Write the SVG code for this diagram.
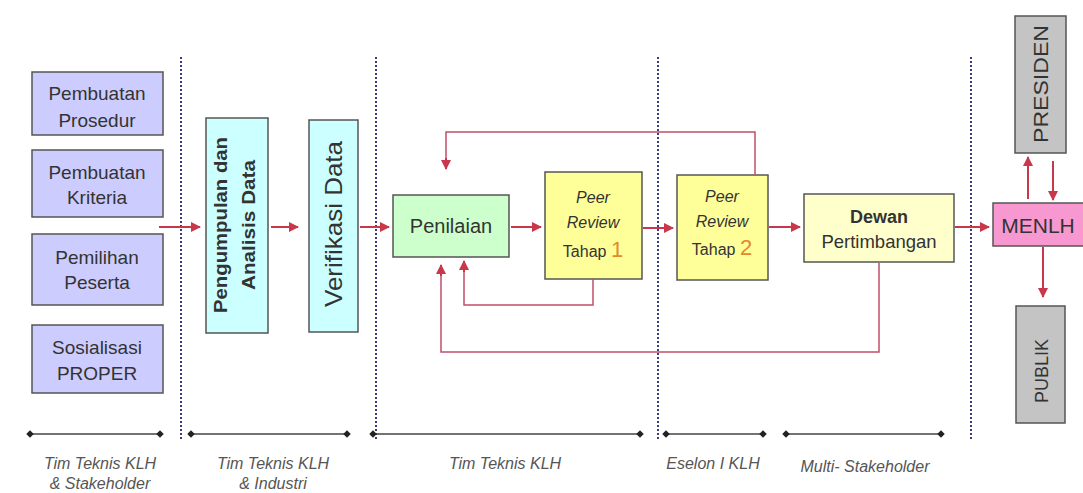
<svg xmlns="http://www.w3.org/2000/svg" width="1083" height="493" viewBox="0 0 1083 493">
<style>
text{font-family:"Liberation Sans",Arial,sans-serif;fill:#333;}
.box{stroke:#555;stroke-width:1.5;}
.purple{fill:#ccccff;}
.cyan{fill:#ccffff;}
.green{fill:#ccffcc;}
.yellow{fill:#ffff99;}
.lyellow{fill:#ffffcc;}
.pink{fill:#f799d0;}
.gray{fill:#c4c4c4;}
.arr{stroke:#c8374a;stroke-width:2;fill:none;marker-end:url(#ah);}
.fb{stroke:#c0506a;stroke-width:1.5;fill:none;}
.dot{stroke:#3a3a80;stroke-width:2;stroke-dasharray:2 2;}
.tl{stroke:#444;stroke-width:1.5;}
.lbl{font-style:italic;font-size:16px;fill:#555;text-anchor:middle;}
.c{text-anchor:middle;}
.l{font-size:19px;}
</style>
<defs>
<marker id="ah" viewBox="0 0 10 10" refX="9" refY="5" markerWidth="5" markerHeight="5" orient="auto">
<path d="M0,0 L10,5 L0,10 z" fill="#c8374a"/>
</marker>
<marker id="dm" viewBox="0 0 10 10" refX="5" refY="5" markerWidth="5" markerHeight="5">
<path d="M5,0 L10,5 L5,10 L0,5 z" fill="#222"/>
</marker>
</defs>
<rect width="1083" height="493" fill="#ffffff"/>

<g id="dividers">
<line class="dot" x1="181" y1="57" x2="181" y2="440"/>
<line class="dot" x1="376" y1="57" x2="376" y2="440"/>
<line class="dot" x1="658" y1="57" x2="658" y2="440"/>
<line class="dot" x1="971" y1="57" x2="971" y2="440"/>
</g>

<g id="n-prosedur"><rect class="box purple" x="32" y="72" width="131" height="63"/>
<text class="c l" x="97" y="100">Pembuatan</text><text class="c l" x="97" y="127">Prosedur</text></g>
<g id="n-kriteria"><rect class="box purple" x="32" y="150" width="131" height="67"/>
<text class="c l" x="97" y="179">Pembuatan</text><text class="c l" x="97" y="204">Kriteria</text></g>
<g id="n-peserta"><rect class="box purple" x="32" y="234" width="131" height="71"/>
<text class="c l" x="97" y="264">Pemilihan</text><text class="c l" x="97" y="289">Peserta</text></g>
<g id="n-sosialisasi"><rect class="box purple" x="32" y="325" width="131" height="68"/>
<text class="c l" x="97" y="354">Sosialisasi</text><text class="c l" x="97" y="380">PROPER</text></g>

<g id="n-pengumpulan"><rect class="box cyan" x="206" y="118" width="62" height="215"/>
<text class="c" font-size="18" font-weight="bold" textLength="176" lengthAdjust="spacingAndGlyphs" transform="translate(227,225) rotate(-90)">Pengumpulan  dan</text>
<text class="c" font-size="18" font-weight="bold" textLength="130" lengthAdjust="spacingAndGlyphs" transform="translate(255,225) rotate(-90)">Analisis Data</text></g>
<g id="n-verifikasi"><rect class="box cyan" x="309" y="120" width="49" height="212"/>
<text class="c" font-size="24" textLength="166" lengthAdjust="spacingAndGlyphs" transform="translate(342,224) rotate(-90)">Verifikasi Data</text></g>

<g id="n-penilaian"><rect class="box green" x="393" y="195" width="116" height="62"/>
<text class="c" x="451" y="233" font-size="20">Penilaian</text></g>
<g id="n-pr1"><rect class="box yellow" x="545" y="172" width="97" height="107"/>
<text class="c" x="593" y="203" font-size="16" font-style="italic">Peer</text>
<text class="c" x="593" y="228" font-size="16" font-style="italic">Review</text>
<text class="c" x="593" y="257" font-size="16">Tahap <tspan font-size="22" fill="#e08a2a">1</tspan></text></g>
<g id="n-pr2"><rect class="box yellow" x="677" y="175" width="91" height="105"/>
<text class="c" x="722" y="202" font-size="16" font-style="italic">Peer</text>
<text class="c" x="722" y="227" font-size="16" font-style="italic">Review</text>
<text class="c" x="722" y="255" font-size="16">Tahap <tspan font-size="22" fill="#e08a2a">2</tspan></text></g>
<g id="n-dewan"><rect class="box lyellow" x="804" y="194" width="150" height="68"/>
<text class="c" x="879" y="223" font-size="18" font-weight="bold">Dewan</text>
<text class="c" x="879" y="248" font-size="18.5">Pertimbangan</text></g>
<g id="n-menlh"><rect class="box pink" x="993" y="203" width="92" height="43"/>
<text class="c" x="1038" y="233" font-size="21">MENLH</text></g>
<g id="n-presiden"><rect class="box gray" x="1015" y="16" width="51" height="137"/>
<text class="c" font-size="20" textLength="118" lengthAdjust="spacingAndGlyphs" transform="translate(1048,84) rotate(-90)">PRESIDEN</text></g>
<g id="n-publik"><rect class="box gray" x="1016" y="306" width="49" height="117"/>
<text class="c" font-size="18" transform="translate(1048,371) rotate(-90)">PUBLIK</text></g>

<g id="connectors">
<line class="arr" x1="159" y1="227" x2="200" y2="227"/>
<line class="arr" x1="271" y1="227" x2="298" y2="227"/>
<line class="arr" x1="360" y1="227" x2="389" y2="227"/>
<line class="arr" x1="511" y1="227" x2="541" y2="227"/>
<line class="arr" x1="643" y1="228" x2="673" y2="228"/>
<line class="arr" x1="769" y1="227" x2="800" y2="227"/>
<line class="arr" x1="955" y1="227" x2="989" y2="227"/>
<line class="arr" x1="1028" y1="199" x2="1028" y2="157"/>
<line class="arr" x1="1053" y1="161" x2="1053" y2="200"/>
<line class="arr" x1="1043" y1="247" x2="1043" y2="297"/>
<polyline class="fb" points="755,175 755,132 446,132 446,162"/>
<line class="arr" x1="446" y1="158" x2="446" y2="169"/>
<polyline class="fb" points="593,279 593,305 464,305 464,268"/>
<line class="arr" x1="464" y1="272" x2="464" y2="261"/>
<polyline class="fb" points="879,263 879,352 441,352 441,272"/>
<line class="arr" x1="441" y1="276" x2="441" y2="265"/>
</g>

<g id="timeline">
<line class="tl" x1="30" y1="434" x2="160" y2="434" marker-start="url(#dm)" marker-end="url(#dm)"/>
<line class="tl" x1="191" y1="434" x2="347" y2="434" marker-start="url(#dm)" marker-end="url(#dm)"/>
<line class="tl" x1="373" y1="434" x2="640" y2="434" marker-start="url(#dm)" marker-end="url(#dm)"/>
<line class="tl" x1="666" y1="434" x2="763" y2="434" marker-start="url(#dm)" marker-end="url(#dm)"/>
<line class="tl" x1="786" y1="434" x2="941" y2="434" marker-start="url(#dm)" marker-end="url(#dm)"/>
<text class="lbl" x="100" y="469">Tim Teknis KLH</text>
<text class="lbl" x="100" y="489">&amp; Stakeholder</text>
<text class="lbl" x="273" y="469">Tim Teknis KLH</text>
<text class="lbl" x="273" y="489">&amp; Industri</text>
<text class="lbl" x="505" y="469">Tim Teknis  KLH</text>
<text class="lbl" x="713" y="469">Eselon I KLH</text>
<text class="lbl" x="865" y="472">Multi- Stakeholder</text>
</g>
</svg>
